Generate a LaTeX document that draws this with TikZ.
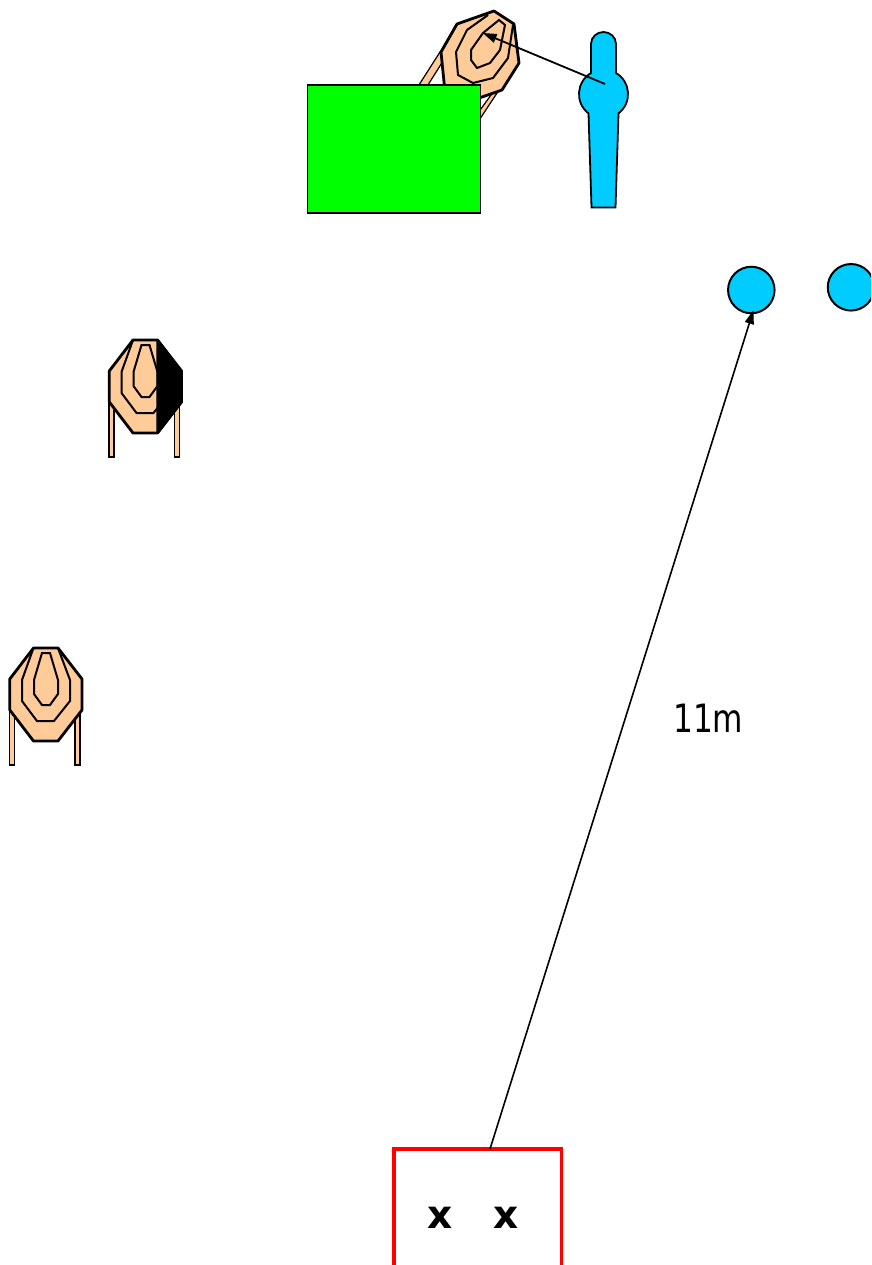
\documentclass[tikz,border=0pt]{standalone}
\usepackage{fontspec}
\setmainfont{DejaVu Sans}
\newfontfamily\distancefont[FakeStretch=0.8]{DejaVu Sans}
\usetikzlibrary{arrows.meta}
\definecolor{peach}{HTML}{FFCC99}
\definecolor{skyb}{HTML}{00CCFF}
\tikzset{
  outerring/.style={draw=black,fill=peach,line width=2.8pt,line join=bevel},
  innerring/.style={draw=black,line width=2pt,line join=miter},
  targetleg/.style={draw=black,fill=peach,line width=1.2pt},
  personshape/.style={draw=black,fill=skyb,line width=1.8pt},
  discshape/.style={circle,draw=black,fill=skyb,line width=2pt,minimum size=46.5pt,inner sep=0pt},
  shotline/.style={draw=black,line width=1.8pt,-{Triangle[length=14pt,width=9pt]}},
  target/.pic={
    \path[targetleg] (9.5,705) -- (14.5,705) -- (14.5,765) -- (9.5,765) -- cycle;
    \path[targetleg] (75,705) -- (80,705) -- (80,765) -- (75,765) -- cycle;
    \path[outerring] (33.5,648) -- (58,648) -- (82,679) -- (82,710) -- (58,741) -- (33.5,741) -- (9.8,710) -- (9.8,679) -- cycle;
    \path[innerring] (33.5,648) -- (22,680) -- (22,701) -- (37,721) -- (54,721) -- (70,701) -- (70,680) -- (58,648);
    \path[innerring] (42,653) -- (50,653) -- (58,680) -- (58,694) -- (50,705) -- (42,705) -- (34,694) -- (34,680) -- cycle;
  }
}
\begin{document}
\begin{tikzpicture}[x=1pt,y=-1pt]
\useasboundingbox (0,0) rectangle (871,1265);
\clip (0,0) rectangle (871,1265);
% rotated target behind the green box
\path[targetleg] (440,52) -- (417,88) -- (426,88) -- (445,58) -- cycle;
\path[targetleg] (499,90) -- (470,134) -- (470,124) -- (491,95) -- cycle;
\path[outerring] (457,24) -- (494,11) -- (514,24) -- (519,63) -- (502,90) -- (482,97) -- (462,104) -- (445,92) -- (441,52) -- cycle;
\path[innerring] (488,15) -- (467,30) -- (456,52) -- (458,75) -- (473,83) -- (493,78) -- (508,58) -- (513,25);
\path[innerring] (499,20) -- (505,25) -- (500,50) -- (490,63) -- (477,68) -- (471,60) -- (471,50) -- (483,33) -- cycle;
\node[draw=black,fill=green,line width=1.9pt,minimum width=173pt,minimum height=128pt,inner sep=0pt,anchor=north west] (greenbox) at (306.5,84) {};
% person
\path[personshape] (591,73) -- (591,44) .. controls (591,37) and (597,32) .. (603.5,32) .. controls (610,32) and (616,37) .. (616,44) -- (616,73)
  .. controls (630.9,81.9) and (632.2,102.8) .. (618.5,113.4) -- (615.5,207.5) -- (591.5,207.5) -- (588.5,113.4)
  .. controls (574.8,102.8) and (576.1,81.9) .. (591,73) -- cycle;
\coordinate (shooter) at (605,84);
\coordinate (aimpoint) at (482.7,33);
\draw[shotline] (shooter) -- (aimpoint);
% standing targets
\pic (targettwo) at (99.5,-308) {target};
\path[draw=black,fill=black,line width=2.4pt,line join=bevel] (157.5,340) -- (181.5,371) -- (181.5,402) -- (157.5,433) -- cycle;
\pic (targetone) at (0,0) {target};
% discs
\node[discshape] (discone) at (751.3,290) {};
\node[discshape] (disctwo) at (851,287.3) {};
% box with crosses
\path[draw=red,line width=3.6pt] (394,1265) -- (394,1149) -- (561.5,1149) -- (561.5,1265);
\coordinate (boxtop) at (490,1149);
\coordinate (disctip) at (753.5,310);
\draw[shotline,line width=1.6pt] (boxtop) -- (disctip);
\node[font=\fontsize{39}{44}\selectfont\bfseries,inner sep=0pt,anchor=base] (crossone) at (440.5,1228) {x};
\node[font=\fontsize{39}{44}\selectfont\bfseries,inner sep=0pt,anchor=base] (crosstwo) at (506.5,1228) {x};
\node[font=\distancefont\fontsize{39}{44}\selectfont,inner sep=0pt,anchor=base west] (distance) at (673,732) {11m};
\end{tikzpicture}
\end{document}
